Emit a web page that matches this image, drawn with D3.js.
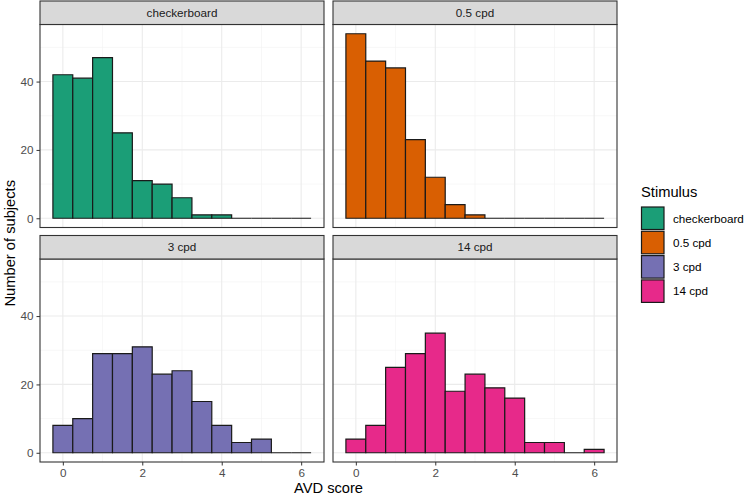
<!DOCTYPE html>
<html>
<head>
<meta charset="utf-8">
<script src="https://cdn.jsdelivr.net/npm/d3@7"></script>
<style>
  body { margin: 0; background: #fff; }
  svg { font-family: "Liberation Sans", Arial, sans-serif; }
</style>
</head>
<body>
<div id="chart"></div>
<script>
//////////////////////////////////////////////////////////////////////////////
// Data (histogram counts, bin width 0.5, centred on 0, 0.5, ... 6)

var stimuli = ["checkerboard", "0.5 cpd", "3 cpd", "14 cpd"];
var colors  = ["#1B9E77", "#D95F02", "#7570B3", "#E7298A"];
var binCenters = [0, 0.5, 1, 1.5, 2, 2.5, 3, 3.5, 4, 4.5, 5, 5.5, 6];
var binWidth = 0.5;

var countsCheckerboard = [42, 41, 47, 25, 11, 10, 6, 1, 1, 0, 0, 0, 0];
var counts05cpd        = [54, 46, 44, 23, 12, 4, 1, 0, 0, 0, 0, 0, 0];
var counts3cpd         = [8, 10, 29, 29, 31, 23, 24, 15, 8, 3, 4, 0, 0];
var counts14cpd        = [4, 8, 25, 29, 35, 18, 23, 19, 16, 3, 3, 0, 1];
var allCounts = [countsCheckerboard, counts05cpd, counts3cpd, counts14cpd];

var xTicks = [0, 2, 4, 6];
var yTicks = [0, 20, 40];

//////////////////////////////////////////////////////////////////////////////
// Layout

var width = 750, height = 498;
var panelW = 284, panelH = 203, stripH = 23.5;
var panels = [
    {col: 0, row: 0, x: 40,  y: 24.5},
    {col: 1, row: 0, x: 333, y: 24.5},
    {col: 0, row: 1, x: 40,  y: 259},
    {col: 1, row: 1, x: 333, y: 259}
];

var maxCount = d3.max(allCounts, function(c) { return d3.max(c); });
var xMin = binCenters[0] - binWidth / 2, xMax = binCenters[binCenters.length - 1] + binWidth / 2;
var xPad = (xMax - xMin) * 0.05, yPad = maxCount * 0.05;

var xScale = d3.scaleLinear().domain([xMin - xPad, xMax + xPad]).range([0, panelW]);
var yScale = d3.scaleLinear().domain([-yPad, maxCount + yPad]).range([panelH, 0]);

var svg = d3.select("#chart").append("svg")
    .attr("width", width)
    .attr("height", height);

panels.forEach(function(p, i) {
    var g = svg.append("g").attr("transform", "translate(" + p.x + "," + p.y + ")");

    // grid
    var minorX = d3.range(Math.ceil(xScale.domain()[0]), xScale.domain()[1], 1).filter(function(v) { return v % 2 !== 0; });
    var minorY = d3.range(10, yScale.domain()[1], 20);
    g.selectAll(".mx").data(minorX).enter().append("line")
        .attr("x1", xScale).attr("x2", xScale).attr("y1", 0).attr("y2", panelH)
        .attr("stroke", "#F2F2F2").attr("stroke-width", 0.6);
    g.selectAll(".my").data(minorY).enter().append("line")
        .attr("y1", yScale).attr("y2", yScale).attr("x1", 0).attr("x2", panelW)
        .attr("stroke", "#F2F2F2").attr("stroke-width", 0.6);
    g.selectAll(".gx").data(xTicks).enter().append("line")
        .attr("x1", xScale).attr("x2", xScale).attr("y1", 0).attr("y2", panelH)
        .attr("stroke", "#EBEBEB").attr("stroke-width", 1.1);
    g.selectAll(".gy").data(yTicks).enter().append("line")
        .attr("y1", yScale).attr("y2", yScale).attr("x1", 0).attr("x2", panelW)
        .attr("stroke", "#EBEBEB").attr("stroke-width", 1.1);

    // bars
    var bins = binCenters.map(function(c, j) { return {x0: c - binWidth / 2, x1: c + binWidth / 2, n: allCounts[i][j]}; });
    g.selectAll(".bar").data(bins).enter().append("path")
        .attr("d", function(d) {
            return "M" + xScale(d.x0) + "," + yScale(0) + "V" + yScale(d.n) +
                   "H" + xScale(d.x1) + "V" + yScale(0) + "Z";
        })
        .attr("fill", colors[i])
        .attr("stroke", "#1a1a1a")
        .attr("stroke-width", 1.2);

    // border
    g.append("rect").attr("width", panelW).attr("height", panelH)
        .attr("fill", "none").attr("stroke", "#333333").attr("stroke-width", 1.1);

    // strip
    g.append("rect").attr("y", -stripH).attr("width", panelW).attr("height", stripH)
        .attr("fill", "#D9D9D9").attr("stroke", "#333333").attr("stroke-width", 1.1);
    g.append("text").attr("x", panelW / 2).attr("y", -stripH / 2)
        .attr("dy", "0.35em").attr("text-anchor", "middle")
        .attr("font-size", 11.7).attr("fill", "#1A1A1A")
        .text(stimuli[i]);

    // axes
    if (p.col === 0) {
        var ya = g.append("g").call(d3.axisLeft(yScale).tickValues(yTicks).tickSize(3.5).tickPadding(3));
        ya.select(".domain").remove();
        ya.selectAll("line").attr("stroke", "#333333");
        ya.selectAll("text").attr("font-size", 11.7).attr("fill", "#4D4D4D").attr("font-family", null);
    }
    if (p.row === 1) {
        var xa = g.append("g").attr("transform", "translate(0," + panelH + ")")
            .call(d3.axisBottom(xScale).tickValues(xTicks).tickSize(3.5).tickPadding(3));
        xa.select(".domain").remove();
        xa.selectAll("line").attr("stroke", "#333333");
        xa.selectAll("text").attr("font-size", 11.7).attr("fill", "#4D4D4D").attr("font-family", null);
    }
});

// axis titles
svg.append("text").attr("x", (40 + 617) / 2).attr("y", 493)
    .attr("text-anchor", "middle").attr("font-size", 14.7).attr("fill", "#000")
    .text("AVD score");
svg.append("text")
    .attr("transform", "translate(15," + (24.5 + 462) / 2 + ") rotate(-90)")
    .attr("text-anchor", "middle").attr("font-size", 14.7).attr("fill", "#000")
    .text("Number of subjects");

// legend
var legend = svg.append("g").attr("transform", "translate(641,206.5)");
legend.append("text").attr("x", 0).attr("y", -10)
    .attr("font-size", 14.7).attr("fill", "#000").text("Stimulus");
var items = legend.selectAll(".item").data(stimuli).enter().append("g")
    .attr("transform", function(d, i) { return "translate(0," + i * 24.3 + ")"; });
items.append("rect")
    .attr("x", 0.5).attr("y", 0.5).attr("width", 22.5).attr("height", 22.5)
    .attr("fill", function(d, i) { return colors[i]; })
    .attr("stroke", "#1a1a1a").attr("stroke-width", 1.2);
items.append("text").attr("x", 32).attr("y", 12).attr("dy", "0.35em")
    .attr("font-size", 11.7).attr("fill", "#000").text(function(d) { return d; });
</script>
</body>
</html>
